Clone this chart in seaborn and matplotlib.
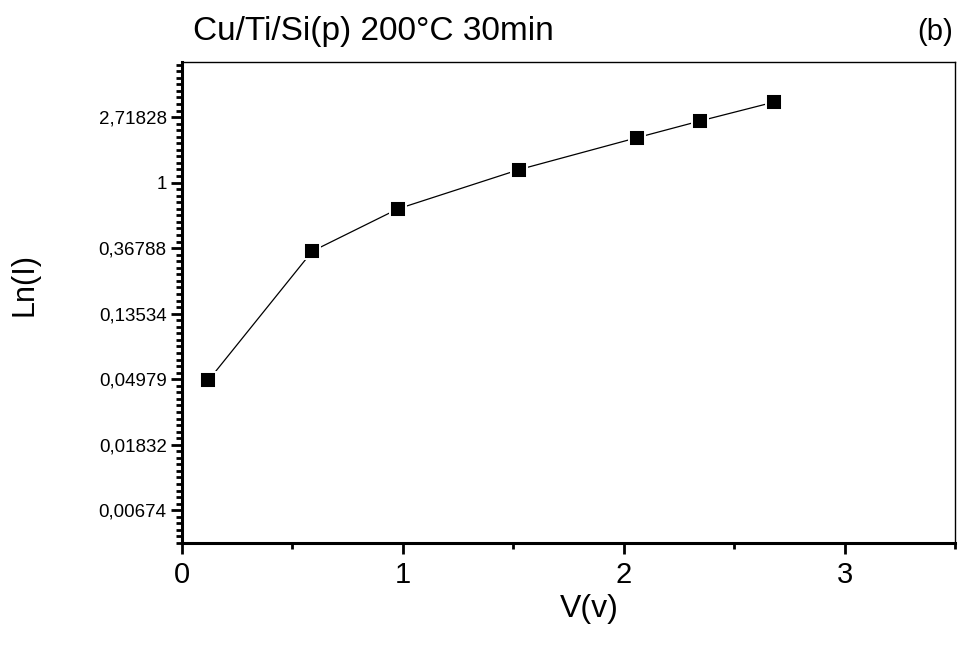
import numpy as np
import pandas as pd
import matplotlib
matplotlib.use("Agg")
import matplotlib.pyplot as plt
from matplotlib.ticker import FixedLocator, FixedFormatter, MultipleLocator
import seaborn as sns

# data
voltage = [0.119, 0.590, 0.978, 1.527, 2.058, 2.345, 2.682]
current = [0.0488, 0.351, 0.670, 1.22, 1.98, 2.56, 3.42]
ytick_exponents = [-5, -4, -3, -2, -1, 0, 1]
ytick_labels = ["0,00674", "0,01832", "0,04979", "0,13534", "0,36788", "1", "2,71828"]
xtick_values = [0, 1, 2, 3]

sns.set_style("ticks")
plt.rcParams["font.family"] = ["Liberation Sans", "DejaVu Sans"]
plt.rcParams["text.color"] = "black"
plt.rcParams["axes.labelcolor"] = "black"
plt.rcParams["xtick.color"] = "black"
plt.rcParams["ytick.color"] = "black"

df = pd.DataFrame({"V": voltage, "I": current})

fig = plt.figure(figsize=(9.6, 6.5), dpi=100)
ax = fig.add_axes([0.1896, 0.1646, 0.9948 - 0.1896, 0.9046 - 0.1646])

sns.lineplot(data=df, x="V", y="I", ax=ax, color="black", linewidth=0.9,
             marker="s", markersize=12, markerfacecolor="black",
             markeredgecolor="white", markeredgewidth=1.4, sort=False)

ax.set_yscale("log")
ax.set_xlim(0, 3.5)
ax.set_ylim(np.exp(-5.5), np.exp(1.84))

ax.yaxis.set_major_locator(FixedLocator(np.exp(ytick_exponents)))
ax.yaxis.set_major_formatter(FixedFormatter(ytick_labels))
ax.yaxis.set_minor_locator(FixedLocator(np.exp(np.arange(-55, 19) / 10.0)))
ax.yaxis.set_minor_formatter(FixedFormatter([]))

ax.xaxis.set_major_locator(FixedLocator(xtick_values))
ax.xaxis.set_minor_locator(MultipleLocator(0.5))

ax.tick_params(axis="both", which="major", direction="out", length=8, width=2,
               color="black", labelcolor="black")
ax.tick_params(axis="both", which="minor", direction="out", length=4, width=2,
               color="black")
ax.tick_params(axis="y", which="major", labelsize=13.5, pad=3)
ax.tick_params(axis="x", which="major", labelsize=21, pad=5)

for side in ["left", "bottom"]:
    ax.spines[side].set_linewidth(2.2)
    ax.spines[side].set_color("black")
for side in ["top", "right"]:
    ax.spines[side].set_visible(True)
    ax.spines[side].set_linewidth(1.0)
    ax.spines[side].set_color("black")

ax.set_xlabel("V(v)", fontsize=23, color="black")
ax.set_ylabel("Ln(I)", fontsize=22, color="black")
ax.xaxis.set_label_coords(0.527, -0.105)
ax.yaxis.set_label_coords(-0.184, 0.538)

fig.text(0.201, 0.951, "Cu/Ti/Si(p) 200°C 30min", fontsize=24, ha="left", va="center")
fig.text(0.993, 0.951, "(b)", fontsize=21, ha="right", va="center")

fig.savefig("out.png", dpi=100)
